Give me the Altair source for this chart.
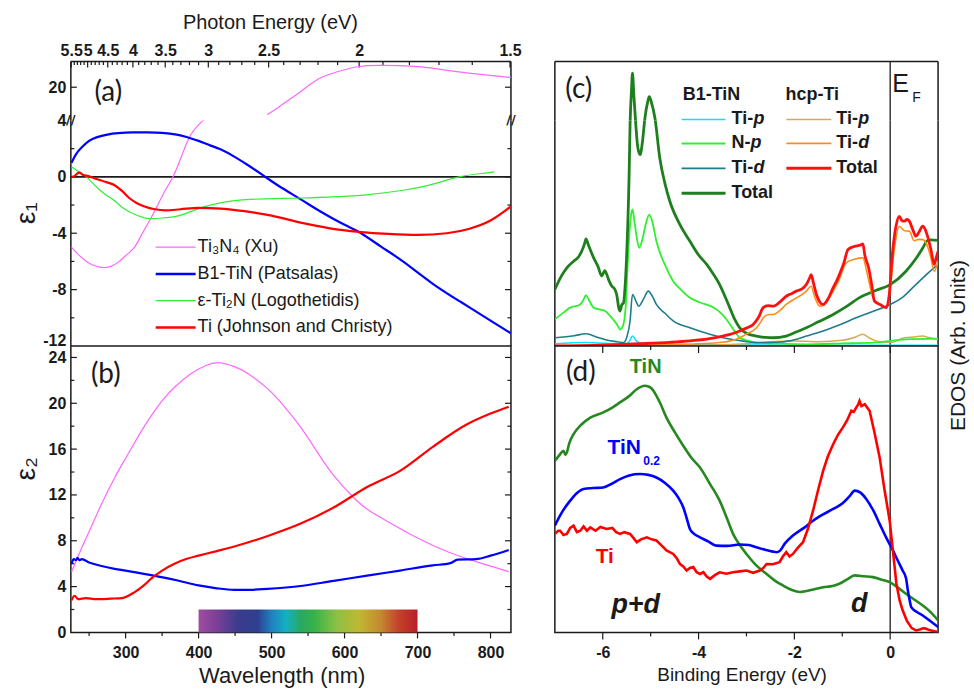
import altair as alt
import pandas as pd

FONT = "Liberation Sans"
LBL = "Lato"
INK = "#1a1a1a"

# ================= DATA =================
# ---- (a) eps1 vs wavelength (nm) ----
a_ti3n4_lo_wl = [226, 235, 245, 255, 265, 272, 280, 290, 300, 312, 322, 335, 345, 355, 365, 375, 385, 395, 408, 415]
a_ti3n4_lo_e1 = [-5.0, -5.5, -5.95, -6.25, -6.4, -6.43, -6.35, -6.05, -5.6, -5.0, -4.1, -2.9, -1.9, -0.9, 0.0, 1.25, 2.55, 3.4, 4.1, 4.5]
a_ti3n4_hi_wl = [494, 510, 525, 540, 563, 590, 620, 652, 690, 720, 770, 828]
a_ti3n4_hi_e1 = [18.05, 18.6, 19.15, 19.7, 20.55, 21.1, 21.47, 21.55, 21.5, 21.35, 21.0, 20.7]
a_tin_wl = [226, 232, 240, 250, 260, 275, 290, 310, 330, 350, 370, 385, 400, 415, 430, 450, 470, 490, 510, 540, 570, 600, 621, 650, 680, 720, 760, 800, 828]
a_tin_e1 = [1.0, 1.6, 2.1, 2.55, 2.8, 3.0, 3.1, 3.15, 3.15, 3.12, 3.0, 2.8, 2.55, 2.25, 1.95, 1.4, 0.75, 0.05, -0.65, -1.6, -2.55, -3.4, -3.95, -4.95, -6.0, -7.55, -8.9, -10.2, -11.1]
a_ti2n_wl = [226, 235, 245, 255, 265, 275, 285, 295, 310, 325, 335, 350, 372, 390, 403, 430, 471, 540, 600, 630, 680, 721, 757, 790, 805]
a_ti2n_e1 = [0.7, 0.4, 0.05, -0.45, -0.95, -1.35, -1.7, -2.15, -2.6, -2.9, -2.96, -2.92, -2.77, -2.45, -2.2, -1.85, -1.6, -1.5, -1.38, -1.28, -0.95, -0.52, 0.0, 0.25, 0.35]
a_ti_wl = [226, 230, 234, 237, 241, 249, 260, 272, 285, 295, 305, 315, 326, 340, 355, 375, 400, 430, 460, 500, 540, 580, 620, 660, 700, 740, 770, 800, 828]
a_ti_e1 = [0.0, 0.05, 0.25, 0.3, 0.15, 0.05, -0.15, -0.35, -0.6, -1.0, -1.5, -1.85, -2.1, -2.3, -2.38, -2.3, -2.2, -2.25, -2.42, -2.75, -3.25, -3.65, -3.9, -4.05, -4.12, -4.0, -3.7, -3.1, -2.1]

# ---- (b) eps2 vs wavelength (nm) ----
b_ti3n4_wl = [226, 240, 255, 267, 285, 300, 320, 335, 350, 367, 390, 410, 427, 449, 470, 494, 515, 540, 560, 585, 612, 630, 653, 698, 743, 789, 825]
b_ti3n4_e2 = [5.3, 7.4, 9.5, 11.2, 13.5, 15.2, 17.4, 18.9, 20.2, 21.4, 22.6, 23.3, 23.55, 23.2, 22.5, 21.3, 19.9, 17.9, 16.0, 13.7, 11.8, 10.8, 9.9, 8.3, 7.0, 6.0, 5.3]
b_tin_wl = [226, 229, 232, 234, 237, 240, 250, 267, 285, 300, 335, 370, 400, 425, 449, 470, 494, 540, 585, 631, 676, 721, 745, 755, 780, 800, 825]
b_tin_e2 = [6.0, 6.4, 6.3, 6.5, 6.3, 6.4, 6.1, 5.8, 5.55, 5.4, 5.0, 4.55, 4.1, 3.85, 3.72, 3.72, 3.8, 4.05, 4.5, 4.95, 5.4, 5.85, 6.05, 6.35, 6.4, 6.7, 7.2]
b_ti_wl = [226, 230, 235, 245, 260, 280, 295, 312, 325, 335, 350, 367, 385, 400, 425, 449, 494, 540, 585, 631, 676, 721, 766, 800, 825]
b_ti_e2 = [2.8, 3.2, 2.9, 3.0, 2.9, 2.95, 3.0, 3.5, 4.1, 4.7, 5.4, 6.0, 6.45, 6.7, 7.1, 7.5, 8.4, 9.5, 10.9, 12.7, 14.1, 16.2, 18.1, 19.1, 19.7]
visible_wl = [400, 700]
visible_top = [2, 2]

# ---- photon-energy axis ticks (eV) ----
ev_major = [5.5, 5.0, 4.5, 4.0, 3.5, 3.0, 2.5, 2.0, 1.5]
ev_minor = [5.4, 5.3, 5.2, 5.1, 4.9, 4.8, 4.7, 4.6, 4.4, 4.3, 4.2, 4.1, 3.9, 3.8, 3.7, 3.6,
            3.4, 3.3, 3.2, 3.1, 2.9, 2.8, 2.7, 2.6, 2.4, 2.3, 2.2, 2.1, 1.9, 1.8, 1.7, 1.6]
lam_major = [1240.0 / e for e in ev_major]
lam_minor = [1240.0 / e for e in ev_minor]

# ---- (c) calculated EDOS vs binding energy (eV) ----
c_tot_E = [-7.0, -6.85, -6.75, -6.61, -6.5, -6.44, -6.38, -6.35, -6.3, -6.19, -6.1, -6.02, -5.96, -5.93, -5.87, -5.81, -5.75, -5.71, -5.66, -5.64, -5.6, -5.57, -5.53, -5.49, -5.45, -5.43, -5.4, -5.38, -5.35, -5.31, -5.27, -5.22, -5.17, -5.12, -5.06, -5.03, -4.99, -4.91, -4.81, -4.7, -4.6, -4.4, -4.18, -4.0, -3.83, -3.7, -3.56, -3.45, -3.35, -3.25, -3.14, -3.0, -2.79, -2.6, -2.44, -2.17, -1.95, -1.75, -1.5, -1.19, -0.9, -0.64, -0.3, 0.0, 0.33, 0.55, 0.68, 0.78, 0.85, 1.0]
c_tot_D = [19.9, 25, 27.5, 29.8, 31.5, 33.3, 36, 37.7, 35.5, 31, 28, 24.6, 26.5, 25.7, 23, 21, 20, 18.1, 13, 12.3, 14.6, 15, 22, 36.8, 60, 77.8, 90, 95.9, 88, 77.8, 70, 67.3, 72, 80.1, 86, 87.7, 86, 80.1, 66.1, 57, 50.9, 43, 36.8, 32, 28.7, 25.5, 21.6, 17.5, 13.5, 9.5, 6.4, 4.5, 3.5, 3.0, 2.9, 3.5, 5.0, 6.4, 8.5, 11.1, 14, 17, 19.5, 21.6, 26.3, 31, 34.5, 37.1, 37.3, 37.1]
c_np_E = [-7.0, -6.8, -6.68, -6.5, -6.44, -6.38, -6.35, -6.3, -6.19, -6.05, -5.95, -5.87, -5.81, -5.7, -5.64, -5.58, -5.52, -5.49, -5.45, -5.41, -5.38, -5.34, -5.29, -5.24, -5.18, -5.1, -5.03, -4.97, -4.88, -4.7, -4.53, -4.35, -4.18, -3.95, -3.69, -3.55, -3.42, -3.28, -3.14, -2.95, -2.79, -2.3, -1.75, -1.0, -0.36, 0.33, 1.0]
c_np_D = [9.4, 12, 13.5, 14.3, 15.2, 17, 17.9, 16.5, 13.5, 12.8, 12.3, 11, 9.9, 7.5, 5.8, 7, 14, 25.1, 38, 46, 48, 44, 38, 34.5, 37, 43, 46.2, 44, 36.8, 28.5, 22.8, 19.5, 17, 15.2, 13.5, 11.8, 9.4, 6, 2.9, 1.8, 1.2, 0.8, 0.6, 0.9, 1.2, 2.3, 2.6]
c_tid_E = [-7.0, -6.6, -6.35, -6.1, -5.92, -5.7, -5.57, -5.5, -5.43, -5.38, -5.3, -5.25, -5.15, -5.05, -4.95, -4.88, -4.7, -4.53, -4.18, -3.8, -3.49, -3.1, -2.79, -2.4, -2.1, -1.75, -1.4, -1.05, -0.71, -0.35, 0.0, 0.25, 0.47, 0.75, 1.0]
c_tid_D = [2.9, 3.6, 4.3, 3.0, 2.1, 1.5, 1.2, 3, 8.8, 18.1, 15.5, 14, 16.5, 19.3, 17, 14.6, 11.5, 8.8, 6.4, 4.3, 2.9, 1.8, 1.2, 1.3, 1.8, 3.5, 5.3, 7.5, 9.9, 12.2, 14.6, 17, 20.5, 25, 28.7]
c_tip_E = [-7.0, -6.35, -5.8, -5.55, -5.45, -5.38, -5.3, -5.2, -4.5, -3.5, -2.0, 0.0, 1.0]
c_tip_D = [0.8, 1.2, 0.8, 0.6, 1.5, 3.5, 1.8, 1.0, 0.6, 0.4, 0.3, 0.3, 0.3]
c_htot_E = [-7.0, -6.0, -5.22, -4.6, -4.18, -3.8, -3.49, -3.3, -3.14, -3.0, -2.86, -2.75, -2.65, -2.55, -2.44, -2.3, -2.17, -2.05, -1.96, -1.85, -1.75, -1.68, -1.65, -1.6, -1.54, -1.47, -1.4, -1.3, -1.19, -1.1, -1.06, -0.97, -0.88, -0.75, -0.62, -0.57, -0.53, -0.45, -0.38, -0.33, -0.2, -0.08, -0.02, 0.05, 0.12, 0.19, 0.25, 0.3, 0.35, 0.4, 0.47, 0.54, 0.6, 0.68, 0.73, 0.78, 0.85, 0.92, 0.96, 1.0]
c_htot_D = [0, 0.3, 0.8, 1.3, 1.8, 2.5, 3.5, 4.3, 5.3, 6.3, 7.6, 10, 13.5, 14.2, 14, 15.5, 17.5, 18.5, 19.3, 20, 21.6, 24, 25.1, 22, 18.1, 15.5, 14.6, 16.5, 20.5, 23.5, 25.1, 29, 33.9, 35, 35.5, 35.9, 32, 27.5, 21, 15.8, 14.5, 13.5, 18, 33, 42, 45.6, 44, 43.9, 44.5, 43.9, 41, 38.6, 40, 42.1, 41, 38.6, 34, 28.7, 31, 33.3]
c_htid_E = [-7.0, -5.0, -4.0, -3.5, -3.14, -3.0, -2.79, -2.7, -2.65, -2.55, -2.44, -2.3, -2.17, -2.0, -1.85, -1.75, -1.65, -1.58, -1.47, -1.38, -1.19, -1.06, -0.92, -0.75, -0.57, -0.5, -0.42, -0.36, -0.2, -0.08, 0.0, 0.08, 0.19, 0.3, 0.4, 0.5, 0.6, 0.68, 0.78, 0.85, 0.92, 1.0]
c_htid_D = [0.2, 0.4, 0.8, 1.3, 2.9, 4.2, 6.4, 8.5, 9.9, 11, 11.1, 12.5, 14.6, 16.5, 18, 19.3, 21, 17.5, 14, 14.5, 19.3, 23.5, 29.2, 30.5, 31, 27, 21, 17, 14.5, 13.5, 20, 33, 42.1, 40.5, 40.4, 37, 37.5, 37.4, 35, 31, 26.3, 29.8]
c_htip_E = [-7.0, -4.0, -3.0, -2.5, -2.0, -1.5, -1.0, -0.75, -0.57, -0.45, -0.3, 0.0, 0.3, 0.5, 0.68, 0.8, 1.0]
c_htip_D = [0.1, 0.3, 0.8, 1.5, 1.8, 1.5, 2.0, 3.0, 4.1, 3.0, 1.8, 1.2, 2.9, 3.2, 3.5, 3.0, 2.3]

# ---- (d) measured valence spectra vs binding energy (eV) ----
d_tin_E = [-7.0, -6.9, -6.82, -6.78, -6.75, -6.7, -6.61, -6.45, -6.26, -5.99, -5.8, -5.64, -5.45, -5.29, -5.12, -5.0, -4.94, -4.8, -4.67, -4.5, -4.32, -4.15, -3.97, -3.76, -3.56, -3.4, -3.28, -3.14, -3.0, -2.8, -2.58, -2.4, -2.24, -2.05, -1.89, -1.6, -1.4, -1.2, -1.06, -0.9, -0.74, -0.55, -0.36, -0.2, 0.0, 0.15, 0.33, 0.5, 0.68, 0.85, 1.0]
d_tin_I = [59.9, 62, 63.4, 62, 62.8, 66, 69.2, 72.5, 75, 76.8, 78.5, 80.3, 82.5, 84.9, 86.1, 85.5, 84.3, 80, 75, 70, 65.2, 61, 57.6, 51.8, 46, 39.5, 34.4, 30.5, 27.4, 23.5, 20.4, 18, 16.4, 14.8, 14.1, 15, 15.8, 16.2, 17, 18.5, 19.9, 19.6, 19.3, 18.5, 17.5, 15.8, 13.5, 11.5, 9.4, 7, 4.2]
d_tin02_E = [-7.0, -6.85, -6.68, -6.55, -6.4, -6.2, -5.99, -5.8, -5.64, -5.45, -5.22, -5.05, -4.88, -4.7, -4.53, -4.42, -4.32, -4.25, -4.18, -4.1, -3.97, -3.8, -3.63, -3.4, -3.14, -2.95, -2.79, -2.6, -2.45, -2.38, -2.3, -2.2, -2.03, -1.8, -1.61, -1.4, -1.19, -1.0, -0.85, -0.74, -0.62, -0.5, -0.35, -0.22, -0.08, 0.06, 0.16, 0.26, 0.33, 0.37, 0.41, 0.44, 0.55, 0.68, 0.85, 1.0]
d_tin02_I = [37.3, 42, 46, 48.5, 50.1, 50.4, 50.6, 52, 53.5, 54.8, 55.3, 55, 54.1, 52.2, 49.5, 47, 43.7, 40, 36.1, 34.5, 33.2, 31.8, 30.3, 30.2, 30.7, 30.5, 29.7, 28.8, 28.2, 28, 28.5, 31, 33.8, 36.5, 39, 41.2, 43.1, 45, 47.5, 49.5, 48.8, 46.6, 42.5, 37.9, 33, 28.6, 25, 21.6, 19, 14.6, 11, 8.8, 7.2, 5.9, 3.8, 1.9]
d_ti_E = [-7.0, -6.93, -6.89, -6.82, -6.75, -6.68, -6.61, -6.54, -6.47, -6.4, -6.33, -6.26, -6.15, -6.05, -5.92, -5.8, -5.72, -5.64, -5.55, -5.43, -5.36, -5.29, -5.2, -5.08, -4.98, -4.88, -4.78, -4.67, -4.53, -4.46, -4.39, -4.32, -4.25, -4.18, -4.11, -4.04, -3.97, -3.9, -3.83, -3.76, -3.66, -3.56, -3.42, -3.28, -3.14, -3.0, -2.86, -2.72, -2.65, -2.58, -2.45, -2.31, -2.24, -2.17, -2.1, -2.03, -1.93, -1.82, -1.72, -1.61, -1.5, -1.4, -1.3, -1.19, -1.09, -0.99, -0.9, -0.81, -0.76, -0.71, -0.67, -0.64, -0.6, -0.53, -0.48, -0.43, -0.33, -0.22, -0.12, -0.01, 0.06, 0.13, 0.2, 0.26, 0.35, 0.45, 0.54, 0.62, 0.7, 0.75, 0.82, 0.9, 1.0]
d_ti_I = [34.4, 35.5, 35.5, 34.0, 34.4, 36.5, 37.3, 35.0, 35.5, 37.0, 35.5, 36.7, 35.5, 36.8, 36.1, 36.5, 35.0, 34.4, 35.0, 34.4, 33.0, 31.5, 32.5, 33.2, 32.5, 32.1, 30.5, 28.6, 27.4, 26.0, 23.9, 23.0, 21.6, 22.5, 22.8, 21.0, 20.4, 21.0, 19.5, 18.7, 20.0, 21.0, 20.5, 21.0, 21.3, 21.6, 20.8, 21.6, 22.5, 23.9, 23.8, 24.5, 26.5, 28.0, 26.5, 27.4, 29.5, 31.5, 36.0, 42.5, 50.0, 56.4, 61.5, 65.7, 69.0, 71.5, 74.0, 77.4, 77.0, 78.5, 79.5, 80.8, 79.0, 79.7, 78.5, 77.4, 70.0, 61.1, 50.0, 39.0, 28.0, 17.0, 11.0, 7.7, 4.0, 1.5, 0.7, 1.0, 1.5, 1.3, 0.8, 0.5, 0.1]

be_major = [-6, -4, -2, 0]
be_minor = [-5, -3, -1]

# ================= HELPERS =================
W_L, H_AT, H_AM, H_B = 441, 59, 226, 287
W_R, H_D = 384, 287

xs_l = alt.Scale(domain=[225, 828], nice=False, zero=False)
ys_at = alt.Scale(domain=[17.64, 21.82], nice=False, zero=False)
ys_am = alt.Scale(domain=[-12, 4], nice=False, zero=False)
ys_b = alt.Scale(domain=[0, 25], nice=False, zero=False)
xs_r = alt.Scale(domain=[-7, 1], nice=False, zero=False)
# panel (c) is 285 px tall for 0..100; split at the same height as (a)'s break
ys_ct = alt.Scale(domain=[79.3, 100], nice=False, zero=False)
ys_cm = alt.Scale(domain=[0, 79.3], nice=False, zero=False)
ys_d = alt.Scale(domain=[0, 100], nice=False, zero=False)


def num_axis(values, orient, pad, weight="bold", size=16, expr="'' + datum.value", **kw):
    return alt.Axis(orient=orient, values=values, labelExpr=expr, ticks=False, tickSize=0,
                    domain=False, grid=False, title=None, labelPadding=pad, labelFont=FONT,
                    labelFontSize=size, labelFontWeight=weight, labelColor=INK,
                    labelOverlap=False, labelFlush=False, **kw)


def curve(x, y, color, width, xs, ys, xax=None, yax=None, interp="monotone"):
    return alt.Chart(pd.DataFrame({"x": x, "y": y})).mark_line(
        color=color, strokeWidth=width, clip=True, interpolate=interp
    ).encode(x=alt.X("x:Q", scale=xs, axis=xax), y=alt.Y("y:Q", scale=ys, axis=yax))


def yticks(vals, ys, yax, length, x_from):
    return alt.Chart(pd.DataFrame({"y": vals})).mark_rule(color=INK, strokeWidth=1.2).encode(
        y=alt.Y("y:Q", scale=ys, axis=yax), x=alt.value(x_from), x2=alt.value(x_from + length))


def xticks(vals, xs, xax, y_from, y_to):
    return alt.Chart(pd.DataFrame({"x": vals})).mark_rule(color=INK, strokeWidth=1.2).encode(
        x=alt.X("x:Q", scale=xs, axis=xax), y=alt.value(y_from), y2=alt.value(y_to))


def seg(x1, x2, y1, y2, color=INK, width=1.5, opacity=1.0):
    return alt.Chart(pd.DataFrame({"k": [0]})).mark_rule(
        color=color, strokeWidth=width, opacity=opacity
    ).encode(x=alt.value(x1), x2=alt.value(x2), y=alt.value(y1), y2=alt.value(y2))


def vline0(xs, xax):
    return alt.Chart(pd.DataFrame({"x": [0]})).mark_rule(color=INK, strokeWidth=1.3).encode(
        x=alt.X("x:Q", scale=xs, axis=xax))


def txt(s, x, y, size, color=INK, weight="normal", style="normal", font=FONT,
        align="center", baseline="middle", angle=0):
    return alt.Chart(pd.DataFrame({"t": [s]})).mark_text(
        font=font, fontSize=size, fontWeight=weight, fontStyle=style, color=color,
        align=align, baseline=baseline, angle=angle
    ).encode(text="t:N", x=alt.value(x), y=alt.value(y))


PINK, BLUE, LGREEN, RED = "#ff66ff", "#0000ff", "#33ee33", "#ff0000"
NOSTROKE = alt.ViewBackground(stroke="transparent")
SMOOTH = "natural"

# ================= PANEL (a) upper segment =================
xax_top = num_axis(lam_major, "top", 3,
                   expr="toString(round(12400 / datum.value) / 10)")
yax_at = num_axis([20], "left", 5)
a_top = alt.layer(
    seg(-70, 0, -60, 0, color="white", width=1, opacity=0),
    seg(0, 0, 0, H_AT), seg(W_L, W_L, 0, H_AT), seg(0, W_L, 0, 0),
    xticks(lam_major, xs_l, xax_top, 0, 6),
    xticks(lam_minor, xs_l, xax_top, 0, 3.5),
    yticks([20], ys_at, yax_at, 6, 0),
    yticks([20], ys_at, yax_at, 6, W_L - 6),
    curve(a_ti3n4_hi_wl, a_ti3n4_hi_e1, PINK, 1.2, xs_l, ys_at, xax_top, yax_at, SMOOTH),
    txt("(a)", 37.5, 31, 28, font=LBL),
    txt("Photon Energy (eV)", 200, -39, 20),
    txt("//", 0, H_AT, 13, weight="bold", font="DejaVu Sans"),
    txt("//", W_L, H_AT, 13, weight="bold", font="DejaVu Sans"),
).properties(width=W_L, height=H_AT, view=NOSTROKE)

# ================= PANEL (a) main =================
yax_am = num_axis([4, 0, -4, -8, -12], "left", 5,
                  labelBaseline={"condition": {"test": "datum.value === -12", "value": "alphabetic"},
                                 "value": "middle"})
leg_a_labels = ["Ti\u2083N\u2084 (Xu)", "B1-TiN (Patsalas)", "\u03b5-Ti\u2082N (Logothetidis)",
                "Ti (Johnson and Christy)"]
leg_a_colors = [PINK, BLUE, LGREEN, RED]
leg_a_widths = [1.2, 2.5, 1.2, 2.5]
leg_a = []
for i, (lab, col, w) in enumerate(zip(leg_a_labels, leg_a_colors, leg_a_widths)):
    yy = 127 + 26.8 * i
    leg_a.append(seg(85, 125, yy, yy, color=col, width=w))
    leg_a.append(txt(lab, 127, yy, 18, align="left"))

a_main = alt.layer(
    seg(0, 0, 0, H_AM), seg(W_L, W_L, 0, H_AM),
    yticks([0, -4, -8], ys_am, yax_am, 6, 0),
    yticks([2, -2, -6, -10], ys_am, yax_am, 3.5, 0),
    yticks([0, -4, -8], ys_am, yax_am, 6, W_L - 6),
    yticks([2, -2, -6, -10], ys_am, yax_am, 3.5, W_L - 3.5),
    alt.Chart(pd.DataFrame({"y": [0]})).mark_rule(color=INK, strokeWidth=1.6).encode(
        y=alt.Y("y:Q", scale=ys_am, axis=yax_am)),
    curve(a_ti3n4_lo_wl, a_ti3n4_lo_e1, PINK, 1.2, xs_l, ys_am, None, yax_am, SMOOTH),
    curve(a_tin_wl, a_tin_e1, BLUE, 2.2, xs_l, ys_am, None, yax_am, SMOOTH),
    curve(a_ti2n_wl, a_ti2n_e1, LGREEN, 1.2, xs_l, ys_am, None, yax_am, SMOOTH),
    curve(a_ti_wl, a_ti_e1, RED, 2.2, xs_l, ys_am, None, yax_am),
    *leg_a,
    txt("\u03b5\u2081", -44, 93, 28, angle=270),
).properties(width=W_L, height=H_AM, view=NOSTROKE)

# ================= PANEL (b) =================
xax_b = num_axis([300, 400, 500, 600, 700, 800], "bottom", 12)
yax_b = num_axis([0, 4, 8, 12, 16, 20, 24], "left", 5)
spectrum = alt.Gradient(
    gradient="linear", x1=0, x2=1, y1=0, y2=0,
    stops=[alt.GradientStop(color=c, offset=o) for o, c in [
        (0.00, "#a04ca0"), (0.08, "#7d3f98"), (0.18, "#3b3c8e"), (0.27, "#2f3f90"),
        (0.33, "#1f7fbf"), (0.40, "#14b0c2"), (0.47, "#2aa85c"), (0.53, "#37b34a"),
        (0.63, "#8cc043"), (0.73, "#c0b833"), (0.83, "#c48a2f"), (0.91, "#c4442c"),
        (1.00, "#b81f28")]])

b = alt.layer(
    yticks([4, 8, 12, 16, 20, 24], ys_b, yax_b, 6, 0),
    yticks([2, 6, 10, 14, 18, 22], ys_b, yax_b, 3.5, 0),
    yticks([4, 8, 12, 16, 20, 24], ys_b, yax_b, 6, W_L - 6),
    yticks([2, 6, 10, 14, 18, 22], ys_b, yax_b, 3.5, W_L - 3.5),
    xticks([300, 400, 500, 600, 700, 800], xs_l, xax_b, H_B, H_B + 6),
    xticks([250, 350, 450, 550, 650, 750], xs_l, xax_b, H_B, H_B + 3.5),
    alt.Chart(pd.DataFrame({"x": visible_wl, "y": visible_top})).mark_area(color=spectrum).encode(
        x=alt.X("x:Q", scale=xs_l, axis=xax_b), y=alt.Y("y:Q", scale=ys_b, axis=yax_b)),
    curve(b_ti3n4_wl, b_ti3n4_e2, PINK, 1.2, xs_l, ys_b, xax_b, yax_b, SMOOTH),
    curve(b_tin_wl, b_tin_e2, BLUE, 2.2, xs_l, ys_b, xax_b, yax_b),
    curve(b_ti_wl, b_ti_e2, RED, 2.2, xs_l, ys_b, xax_b, yax_b),
    txt("(b)", 35, 29, 28, font=LBL),
    txt("\u03b5\u2082", -44, 123, 28, angle=270),
    txt("Wavelength (nm)", 211.7, 330.5, 22),
).properties(width=W_L, height=H_B)

# ================= PANEL (c) (drawn in two stacked slices) =================
C_TIP, C_NP, C_TID, C_TOT = "#00e5ff", "#2ef02e", "#1e7d8c", "#1d7f1d"
H_TIP, H_TID, H_TOT = "#d9aa50", "#ff8c1a", "#ff1010"


def c_curves(ys):
    return [
        curve(c_tip_E, c_tip_D, C_TIP, 1.5, xs_r, ys),
        curve(c_htip_E, c_htip_D, H_TIP, 1.5, xs_r, ys),
        curve(c_np_E, c_np_D, C_NP, 1.8, xs_r, ys),
        curve(c_tid_E, c_tid_D, C_TID, 1.6, xs_r, ys),
        curve(c_tot_E, c_tot_D, C_TOT, 2.8, xs_r, ys),
        curve(c_htid_E, c_htid_D, H_TID, 1.6, xs_r, ys),
        curve(c_htot_E, c_htot_D, H_TOT, 2.8, xs_r, ys),
    ]


c_top = alt.layer(
    seg(0, 0, 0, H_AT), seg(W_R, W_R, 0, H_AT), seg(0, W_R, 0, 0),
    vline0(xs_r, None),
    *c_curves(ys_ct),
    txt("(c)", 24, 28, 28, font=LBL),
    txt("E", 338, 30, 25, align="left", baseline="alphabetic"),
    txt("F", 358, 40, 14, align="left", baseline="alphabetic"),
).properties(width=W_R, height=H_AT, view=NOSTROKE)

leg_c = [
    txt("B1-TiN", 157, 33 - H_AT, 18, weight="bold"),
    txt("hcp-Ti", 258, 33 - H_AT, 18, weight="bold"),
]
for yy, col, w, pre, it in [(58, C_TIP, 1.6, "Ti-", "p"), (82, C_NP, 2.0, "N-", "p"),
                            (107, C_TID, 1.6, "Ti-", "d"), (132, C_TOT, 3.0, "Total", "")]:
    yy -= H_AT
    leg_c.append(seg(127, 171, yy, yy, color=col, width=w))
    leg_c.append(txt(pre, 177, yy, 18, weight="bold", align="left"))
    if it:
        leg_c.append(txt(it, 177 + (22 if pre == "Ti-" else 19), yy, 18, weight="bold",
                         style="italic", align="left"))
for yy, col, w, pre, it in [(58, H_TIP, 1.6, "Ti-", "p"), (82, H_TID, 1.6, "Ti-", "d"),
                            (107, H_TOT, 3.0, "Total", "")]:
    yy -= H_AT
    leg_c.append(seg(232, 277, yy, yy, color=col, width=w))
    leg_c.append(txt(pre, 282, yy, 18, weight="bold", align="left"))
    if it:
        leg_c.append(txt(it, 304, yy, 18, weight="bold", style="italic", align="left"))

c_main = alt.layer(
    seg(0, 0, 0, H_AM), seg(W_R, W_R, 0, H_AM),
    xticks(be_major, xs_r, None, H_AM, H_AM + 7),
    xticks(be_minor, xs_r, None, H_AM, H_AM + 4),
    vline0(xs_r, None),
    *c_curves(ys_cm),
    *leg_c,
    txt("EDOS (Arb. Units)", 404.5, 225.5, 21, angle=270),
).properties(width=W_R, height=H_AM, view=NOSTROKE)

# ================= PANEL (d) =================
xax_d = num_axis(be_major, "bottom", 12)
D_GREEN = "#25891f"
d = alt.layer(
    seg(W_R, W_R + 35, H_D, H_D + 58, color="white", width=1, opacity=0),
    xticks(be_major, xs_r, xax_d, H_D, H_D + 7),
    xticks(be_minor, xs_r, xax_d, H_D, H_D + 4),
    vline0(xs_r, xax_d),
    curve(d_tin_E, d_tin_I, D_GREEN, 2.6, xs_r, ys_d, xax_d),
    curve(d_tin02_E, d_tin02_I, BLUE, 2.6, xs_r, ys_d, xax_d),
    curve(d_ti_E, d_ti_I, RED, 2.6, xs_r, ys_d, xax_d, interp="linear"),
    txt("(d)", 26, 27, 28, font=LBL),
    txt("TiN", 91, 21, 20, color=D_GREEN, weight="bold"),
    txt("TiN", 69.5, 102, 21, color=BLUE, weight="bold"),
    txt("0.2", 97, 115, 12, color=BLUE, weight="bold"),
    txt("Ti", 50, 211, 21, color=RED, weight="bold"),
    txt("p+d", 81, 260, 27, weight="bold", style="italic"),
    txt("d", 305, 259, 27, weight="bold", style="italic"),
    txt("Binding Energy (eV)", 187.6, 330, 19),
).properties(width=W_R, height=H_D)

chart = alt.concat(
    a_top, c_top, a_main, c_main, b, d,
    columns=2, spacing={"row": 0, "column": 44}, bounds="flush",
).resolve_scale(x="independent", y="independent").properties(
    padding=0, background="white"
).configure_view(stroke=INK, strokeWidth=1.5)

chart.save("out.html", embed_options={"renderer": "svg", "actions": False})
